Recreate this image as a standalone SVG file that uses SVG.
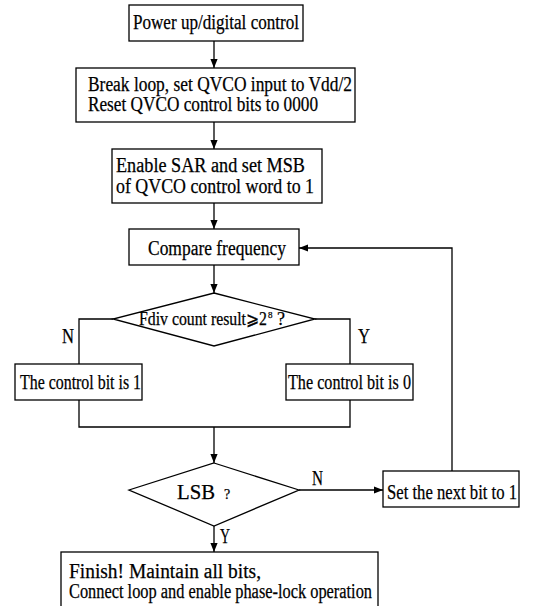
<svg xmlns="http://www.w3.org/2000/svg" width="549" height="606" viewBox="0 0 549 606">
<style>
  .box{fill:#fff;stroke:#000;stroke-width:1.3}
  .ln{fill:none;stroke:#000;stroke-width:1.3}
  text{font-family:"Liberation Serif","Times New Roman",serif;font-size:20.5px;fill:#000;stroke:#000;stroke-width:0.25}
  .sm{font-size:18px}
</style>
<defs>
  <marker id="ah" viewBox="0 0 10 10" refX="10" refY="5" markerWidth="9" markerHeight="9" markerUnits="userSpaceOnUse" orient="auto">
    <path d="M0,1 L10,5 L0,9 Z" fill="#000"/>
  </marker>
</defs>
<rect width="549" height="606" fill="#fff"/>
<g id="connectors">
  <line class="ln" x1="214" y1="41" x2="214" y2="68" marker-end="url(#ah)"/>
  <line class="ln" x1="214" y1="122" x2="214" y2="149" marker-end="url(#ah)"/>
  <line class="ln" x1="214" y1="203" x2="214" y2="229" marker-end="url(#ah)"/>
  <line class="ln" x1="214" y1="265" x2="214" y2="293" marker-end="url(#ah)"/>
  <polyline class="ln" points="113,319 79,319 79,364"/>
  <polyline class="ln" points="315,319 350,319 350,364"/>
  <polyline class="ln" points="79,400 79,427 350,427 350,400"/>
  <line class="ln" x1="214" y1="427" x2="214" y2="463" marker-end="url(#ah)"/>
  <line class="ln" x1="299" y1="490" x2="383" y2="490" marker-end="url(#ah)"/>
  <polyline class="ln" points="452,471 452,248 299,248" marker-end="url(#ah)"/>
  <line class="ln" x1="214" y1="526" x2="214" y2="552" marker-end="url(#ah)"/>
  <text x="62" y="343" textLength="12" lengthAdjust="spacingAndGlyphs">N</text>
  <text x="358" y="343" textLength="12" lengthAdjust="spacingAndGlyphs">Y</text>
  <text x="312" y="485" textLength="11" lengthAdjust="spacingAndGlyphs">N</text>
  <text x="220" y="543" textLength="10" lengthAdjust="spacingAndGlyphs">Y</text>
</g>
<g id="power">
  <rect class="box" x="129" y="5" width="174" height="36"/>
  <text x="133" y="29" textLength="166" lengthAdjust="spacingAndGlyphs">Power up/digital control</text>
</g>
<g id="break">
  <rect class="box" x="76" y="68" width="279" height="54"/>
  <text x="88" y="91" textLength="264" lengthAdjust="spacingAndGlyphs">Break loop, set QVCO input to Vdd/2</text>
  <text x="88" y="111" textLength="230" lengthAdjust="spacingAndGlyphs">Reset QVCO control bits to 0000</text>
</g>
<g id="enable">
  <rect class="box" x="112" y="149" width="210" height="54"/>
  <text x="116" y="172" textLength="189" lengthAdjust="spacingAndGlyphs">Enable SAR and set MSB</text>
  <text x="116" y="193" textLength="198" lengthAdjust="spacingAndGlyphs">of QVCO control word to 1</text>
</g>
<g id="compare">
  <rect class="box" x="129" y="229" width="170" height="36"/>
  <text x="148" y="255" textLength="138" lengthAdjust="spacingAndGlyphs">Compare frequency</text>
</g>
<g id="fdiv">
  <polygon class="box" points="214,293 315,319 214,346 113,319"/>
  <text class="sm" x="139" y="325"><tspan textLength="128" lengthAdjust="spacingAndGlyphs">Fdiv count result⩾2</tspan><tspan dx="1" dy="-7" style="font-size:9px">8</tspan><tspan dy="7"> ?</tspan></text>
</g>
<g id="bit1">
  <rect class="box" x="15" y="364" width="127" height="36"/>
  <text x="20" y="389" textLength="121" lengthAdjust="spacingAndGlyphs">The control bit is 1</text>
</g>
<g id="bit0">
  <rect class="box" x="286" y="364" width="127" height="36"/>
  <text x="288" y="389" textLength="123" lengthAdjust="spacingAndGlyphs">The control bit is 0</text>
</g>
<g id="lsb">
  <polygon class="box" points="214,463 299,490 214,526 129,490"/>
  <text x="177" y="499"><tspan textLength="38" lengthAdjust="spacingAndGlyphs">LSB</tspan><tspan dx="9" style="font-size:14px">?</tspan></text>
</g>
<g id="next">
  <rect class="box" x="383" y="471" width="136" height="36"/>
  <text x="387" y="499" textLength="130" lengthAdjust="spacingAndGlyphs">Set the next bit to 1</text>
</g>
<g id="finish">
  <rect class="box" x="61" y="552" width="317" height="56"/>
  <text x="69" y="578" textLength="192" lengthAdjust="spacingAndGlyphs">Finish! Maintain all bits,</text>
  <text x="69" y="598" textLength="303" lengthAdjust="spacingAndGlyphs">Connect loop and enable phase-lock operation</text>
</g>
</svg>
